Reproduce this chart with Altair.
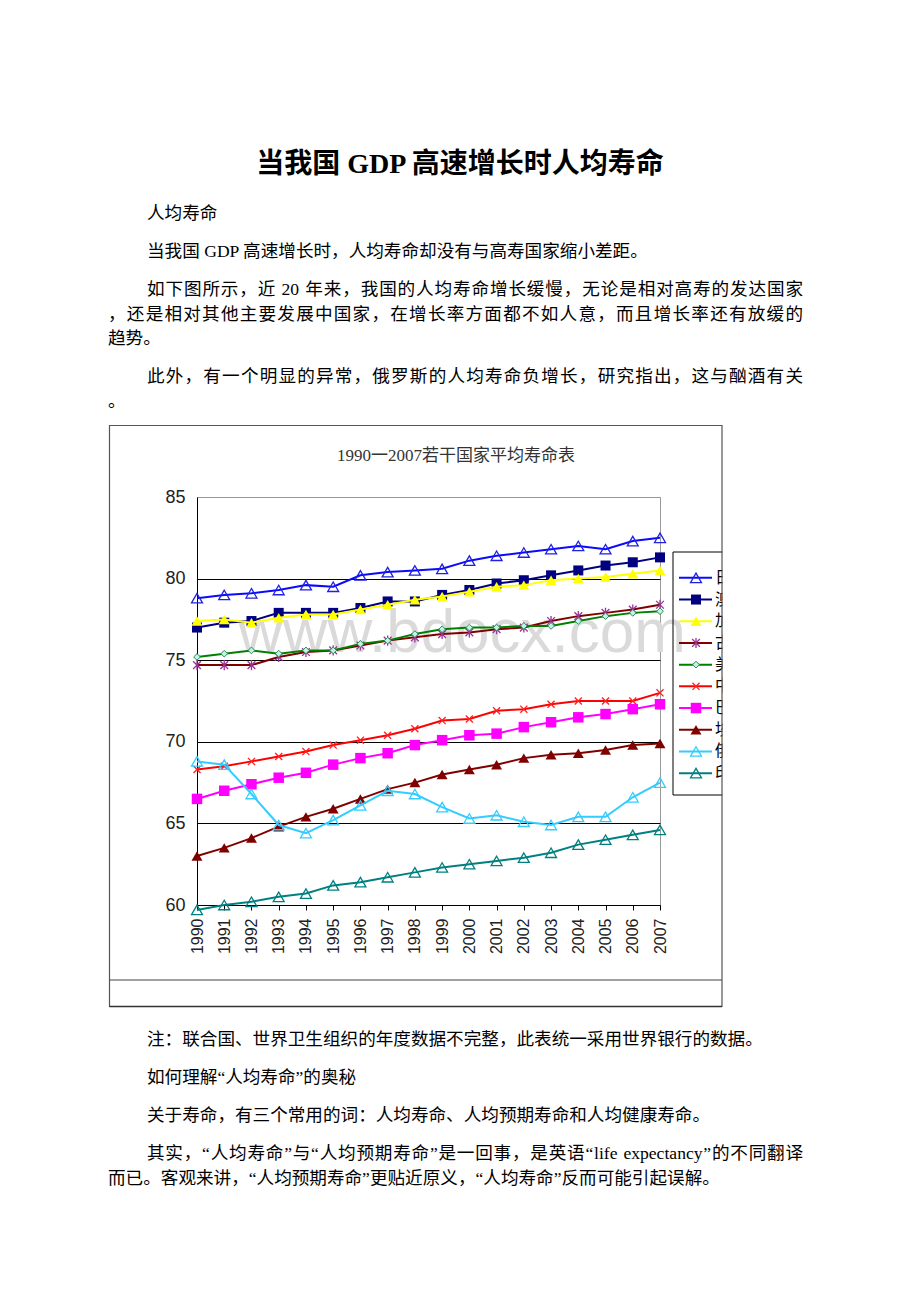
import altair as alt
import pandas as pd

# ---------------- data ----------------
YEARS = list(range(1990, 2008))
COUNTRIES = ["日本", "澳大利亚", "加拿大", "古巴", "美国", "中国", "巴西", "埃及", "俄罗斯", "印度"]

JAPAN = [78.8, 79.0, 79.1, 79.3, 79.6, 79.5, 80.2, 80.4, 80.5, 80.6, 81.1, 81.4, 81.6, 81.8, 82.0, 81.8, 82.3, 82.5]
AUSTRALIA = [77.0, 77.3, 77.4, 77.9, 77.9, 77.9, 78.2, 78.6, 78.6, 79.0, 79.3, 79.7, 79.9, 80.2, 80.5, 80.8, 81.0, 81.3]
CANADA = [77.4, 77.5, 77.3, 77.6, 77.8, 77.8, 78.1, 78.4, 78.7, 78.9, 79.2, 79.5, 79.6, 79.9, 80.0, 80.1, 80.3, 80.5]
CUBA = [74.7, 74.7, 74.7, 75.2, 75.5, 75.6, 75.9, 76.2, 76.4, 76.6, 76.7, 76.9, 77.0, 77.4, 77.7, 77.9, 78.1, 78.4]
USA = [75.2, 75.4, 75.6, 75.4, 75.6, 75.6, 76.0, 76.2, 76.6, 76.9, 77.0, 77.0, 77.1, 77.1, 77.4, 77.7, 77.9, 78.0]
CHINA = [68.3, 68.5, 68.8, 69.1, 69.4, 69.8, 70.1, 70.4, 70.8, 71.3, 71.4, 71.9, 72.0, 72.3, 72.5, 72.5, 72.5, 73.0]
BRAZIL = [66.5, 67.0, 67.4, 67.8, 68.1, 68.6, 69.0, 69.3, 69.8, 70.1, 70.4, 70.5, 70.9, 71.2, 71.5, 71.7, 72.0, 72.3]
EGYPT = [63.0, 63.5, 64.1, 64.8, 65.4, 65.9, 66.5, 67.1, 67.5, 68.0, 68.3, 68.6, 69.0, 69.2, 69.3, 69.5, 69.8, 69.9]
RUSSIA = [68.8, 68.6, 66.8, 64.9, 64.4, 65.2, 66.1, 67.0, 66.8, 66.0, 65.3, 65.5, 65.1, 64.9, 65.4, 65.4, 66.6, 67.5]
INDIA = [59.7, 60.0, 60.2, 60.5, 60.7, 61.2, 61.4, 61.7, 62.0, 62.3, 62.5, 62.7, 62.9, 63.2, 63.7, 64.0, 64.3, 64.6]
SERIES = [JAPAN, AUSTRALIA, CANADA, CUBA, USA, CHINA, BRAZIL, EGYPT, RUSSIA, INDIA]

Y_TICKS = [60, 65, 70, 75, 80, 85]

CHART_TITLE = "1990一2007若干国家平均寿命表"
WATERMARK = "www.bdocx.com"
PAGE_TITLE = "当我国 GDP 高速增长时人均寿命"
TOP_LINES = [
    "人均寿命",
    "当我国 GDP 高速增长时，人均寿命却没有与高寿国家缩小差距。",
    "如下图所示，近 20 年来，我国的人均寿命增长缓慢，无论是相对高寿的发达国家",
    "，还是相对其他主要发展中国家，在增长率方面都不如人意，而且增长率还有放缓的",
    "趋势。",
    "此外，有一个明显的异常，俄罗斯的人均寿命负增长，研究指出，这与酗酒有关",
    "。",
]
BOTTOM_LINES = [
    "注：联合国、世界卫生组织的年度数据不完整，此表统一采用世界银行的数据。",
    "如何理解“人均寿命”的奥秘",
    "关于寿命，有三个常用的词：人均寿命、人均预期寿命和人均健康寿命。",
    "其实，“人均寿命”与“人均预期寿命”是一回事，是英语“life expectancy”的不同翻译",
    "而已。客观来讲，“人均预期寿命”更贴近原义，“人均寿命”反而可能引起误解。",
]

rows = []
for name, vals in zip(COUNTRIES, SERIES):
    for yr, v in zip(YEARS, vals):
        rows.append({"country": name, "year": yr, "value": v})
df = pd.DataFrame(rows)
leg_df = pd.DataFrame({"country": COUNTRIES, "label": [c[0] for c in COUNTRIES]})

# ---------------- layout (page pixels) ----------------
OX, OY = 197, 497          # plot origin on the page
PW, PH = 463, 408          # plot size
RIGHT_MARGIN = 803         # right edge of justified text lines


def px(x):
    return x - OX


def py(y):
    return y - OY


X_PATH = "M-1,-1L1,1M-1,1L1,-1"
STAR_PATH = "M-1,-1L1,1M-1,1L1,-1M0,-1.3L0,1.3"

STYLES = {
    "日本": dict(line="#0a0aff", shape="triangle-up", color="#2020e0", filled=False, size=120),
    "澳大利亚": dict(line="#000080", shape="square", color="#000080", filled=True, size=100),
    "加拿大": dict(line="#ffff00", shape="triangle-up", color="#ffff00", filled=True, size=120),
    "古巴": dict(line="#800000", shape=STAR_PATH, color="#993399", filled=False, size=60),
    "美国": dict(line="#008000", shape="diamond", color="#bff5e6", stroke="#2e8b57", filled=True, size=45),
    "中国": dict(line="#ff0000", shape=X_PATH, color="#ff2020", filled=False, size=50),
    "巴西": dict(line="#ff00ff", shape="square", color="#ff00ff", filled=True, size=110),
    "埃及": dict(line="#800000", shape="triangle-up", color="#800000", filled=True, size=120),
    "俄罗斯": dict(line="#33ccff", shape="triangle-up", color="#33ccff", filled=False, size=120),
    "印度": dict(line="#008080", shape="triangle-up", color="#008080", filled=False, size=120),
}

SERIF = "Liberation Serif, Noto Sans CJK SC"
AXIS_FONT = "Liberation Sans Narrow, Liberation Sans"
BODY_SIZE = 17.6

X = alt.X("year:O", scale=alt.Scale(padding=0),
          axis=alt.Axis(title=None, labelAngle=270, labelFont=AXIS_FONT, labelFontSize=16,
                        labelColor="#222222", ticks=True, tickSize=5, tickColor="#000000",
                        domainColor="#000000", grid=False, labelPadding=8))
Y = alt.Y("value:Q", scale=alt.Scale(domain=[60, 85], nice=False, zero=False),
          axis=alt.Axis(title=None, values=Y_TICKS, ticks=False, labelFont=AXIS_FONT,
                        labelFontSize=18, labelColor="#222222", labelPadding=12,
                        domainColor="#000000", grid=True,
                        gridColor={"condition": {"test": "datum.value == 85", "value": "#999999"},
                                   "value": "#000000"},
                        gridOpacity=1))

base = alt.Chart(df)


def point_mark(st):
    kw = dict(shape=st["shape"], size=st["size"], opacity=1, strokeWidth=1.3)
    if st["filled"]:
        kw.update(filled=True, fill=st["color"])
        if "stroke" in st:
            kw.update(stroke=st["stroke"], strokeWidth=1)
    else:
        kw.update(filled=False, stroke=st["color"], fill="transparent")
    return kw


series_layers = []
for name in COUNTRIES:
    st = STYLES[name]
    sub = base.transform_filter(alt.datum.country == name)
    series_layers.append(sub.mark_line(color=st["line"], strokeWidth=2).encode(x=X, y=Y))
    series_layers.append(sub.mark_point(**point_mark(st)).encode(x=X, y=Y))
plot = alt.layer(*series_layers)

# ---------------- legend drawn from its own point scale ----------------
LY = alt.Y("country:N", scale=alt.Scale(domain=COUNTRIES, range=[py(567), py(784)], padding=0), axis=None)
leg_base = alt.Chart(leg_df)
leg_layers = [
    leg_base.mark_rule(strokeWidth=2).encode(
        y=LY, x=alt.value(px(679)), x2=alt.value(px(712)),
        color=alt.Color("country:N", scale=alt.Scale(domain=COUNTRIES,
                                                     range=[STYLES[c]["line"] for c in COUNTRIES]),
                        legend=None))
]
for name in COUNTRIES:
    st = STYLES[name]
    leg_layers.append(leg_base.transform_filter(alt.datum.country == name)
                      .mark_point(**point_mark(st)).encode(y=LY, x=alt.value(px(696))))
leg_layers.append(leg_base.mark_text(align="left", baseline="middle", font="Noto Sans CJK SC",
                                     fontSize=16, color="#000000")
                  .encode(y=LY, x=alt.value(px(715)), text="label:N"))
legend = alt.layer(*leg_layers)

one = pd.DataFrame({"k": [0]})


def text_layer(txt, x, y, size=BODY_SIZE, weight="normal", align="left", font=SERIF, color="#000000",
               baseline="middle"):
    return alt.Chart(pd.DataFrame({"t": [txt]})).mark_text(
        align=align, baseline=baseline, font=font, fontSize=size, fontWeight=weight, color=color
    ).encode(x=alt.value(px(x)), y=alt.value(py(y)), text="t:N")


# --- justified lines: split into tokens and spread them to the right margin ---
LATIN_W = {"l": .278, "i": .278, "f": .333, "e": .444, "x": .5, "p": .5, "c": .444, "t": .278,
           "a": .444, "n": .5, "y": .5, " ": .25, "“": .444, "”": .444}


def char_w(c):
    if ord(c) >= 0x2E80:
        return 1.0
    if c.isdigit():
        return 0.5
    return LATIN_W.get(c, 0.5)


def tokenize(s):
    toks, buf = [], ""
    for ch in s:
        if ch.isascii() and ch != " ":
            buf += ch
        else:
            if buf:
                toks.append(buf)
                buf = ""
            toks.append(ch)
    if buf:
        toks.append(buf)
    return toks


def justified_layer(txt, x0, y, x1=RIGHT_MARGIN, size=BODY_SIZE):
    toks = tokenize(txt)
    widths = [sum(char_w(c) for c in t) * size for t in toks]
    extra = (x1 - x0) - sum(widths)
    gap = extra / (len(toks) - 1)
    xs, cur = [], x0
    for w in widths:
        xs.append(px(cur))
        cur += w + gap
    d = pd.DataFrame({"t": toks, "x": xs})
    return alt.Chart(d).mark_text(align="left", baseline="middle", font=SERIF, fontSize=size,
                                  color="#000000").encode(
        x=alt.X("x:Q", scale=alt.Scale(domain=[0, 100], range=[0, 100]), axis=None),
        y=alt.value(py(y)), text="t:N")


watermark = text_layer(WATERMARK, 462, 652, size=62, font="Liberation Sans", color="#dadada",
                       align="center", baseline="alphabetic")

legend_box = [
    alt.Chart(one).mark_rule(color="#000000", strokeWidth=1).encode(
        x=alt.value(px(673)), x2=alt.value(px(740)), y=alt.value(py(552))),
    alt.Chart(one).mark_rule(color="#000000", strokeWidth=1).encode(
        x=alt.value(px(673)), x2=alt.value(px(740)), y=alt.value(py(795))),
    alt.Chart(one).mark_rule(color="#000000", strokeWidth=1).encode(
        x=alt.value(px(673)), y=alt.value(py(552)), y2=alt.value(py(795))),
]
cover = alt.Chart(one).mark_rect(color="#ffffff").encode(
    x=alt.value(px(722.5)), x2=alt.value(px(930)), y=alt.value(py(530)), y2=alt.value(py(815)))

frame = [
    alt.Chart(one).mark_rect(fill="transparent", stroke="#555555", strokeWidth=1.2).encode(
        x=alt.value(px(109.5)), x2=alt.value(px(722)), y=alt.value(py(425.5)), y2=alt.value(py(1006.5))),
    alt.Chart(one).mark_rule(color="#333333", strokeWidth=1.6).encode(
        x=alt.value(px(109.5)), x2=alt.value(px(722)), y=alt.value(py(1006.5))),
    alt.Chart(one).mark_rule(color="#444444", strokeWidth=1.2).encode(
        x=alt.value(px(109.5)), x2=alt.value(px(722)), y=alt.value(py(980))),
]

TOP_POS = [(147, 214), (147, 252), (147, 290), (108, 315), (108, 339), (147, 377), (108, 402)]
TOP_JUSTIFY = [False, False, True, True, False, True, False]
BOTTOM_POS = [(147, 1040), (147, 1078), (147, 1116), (147, 1154), (108, 1179)]
BOTTOM_JUSTIFY = [False, False, False, True, False]

texts = [text_layer(PAGE_TITLE, 460, 165, size=28, weight="bold", align="center"),
         text_layer(CHART_TITLE, 456, 456, size=17, color="#333333", align="center")]
for t, (x, y), j in zip(TOP_LINES + BOTTOM_LINES, TOP_POS + BOTTOM_POS, TOP_JUSTIFY + BOTTOM_JUSTIFY):
    texts.append(justified_layer(t, x, y) if j else text_layer(t, x, y))

chart = alt.layer(watermark, plot, legend, *legend_box, cover, *frame, *texts).resolve_scale(
    x="independent", y="independent"
).properties(
    width=PW, height=PH,
    padding={"left": OX - 8, "top": OY - 8, "right": 904 - (OX - 8) - PW, "bottom": 1270 - (OY - 8) - PH},
    autosize=alt.AutoSizeParams(type="none"),
    background="#ffffff",
).configure_view(stroke="#999999", strokeWidth=1)

chart.save("out.html", embed_options={"renderer": "svg", "actions": False})
